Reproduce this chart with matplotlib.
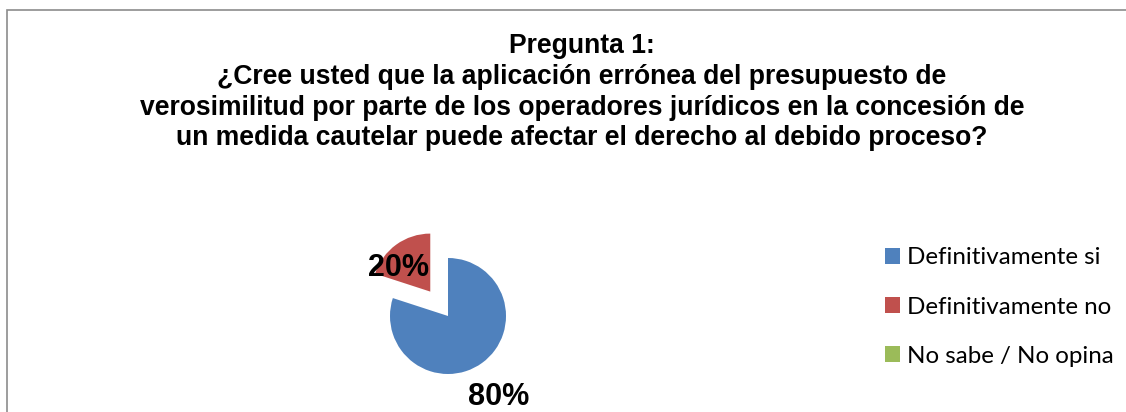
import matplotlib
matplotlib.use("Agg")
import matplotlib.pyplot as plt
import numpy as np

# datos de la encuesta
categorias = ["Definitivamente si", "Definitivamente no", "No sabe / No opina"]
porcentajes = [80, 20, 0]
colores = ["#4F81BD", "#C0504D", "#9BBB59"]
separacion = [0, 0.52, 0]

titulo = ("Pregunta 1:\n"
          "¿Cree usted que la aplicación errónea del presupuesto de\n"
          "verosimilitud por parte de los operadores jurídicos en la concesión de\n"
          "un medida cautelar puede afectar el derecho al debido proceso?")

W, H = 1126, 412
fig = plt.figure(figsize=(W / 100, H / 100), dpi=100)

# marco del grafico (solo se ven el borde izquierdo y el superior)
marco = plt.Rectangle((7 / W, -0.1), 1.2, (H - 10) / H + 0.1, transform=fig.transFigure,
                      fill=False, edgecolor="#8c8c8c", linewidth=1.2)
fig.patches.append(marco)

fig.text(582 / W, 1 - 33 / H, titulo, ha="center", va="top", fontsize=19.1,
         fontweight="bold", family="Liberation Sans", linespacing=1.24)

# pie: centro (448, 316) px, radio 58 px
lado = 160
cx, cy = 448, H - 316
ax = fig.add_axes([(cx - lado / 2) / W, (cy - lado / 2) / H, lado / W, lado / H])

wedges, textos = ax.pie(porcentajes, colors=colores, startangle=90, counterclock=False,
                        explode=separacion, radius=1, normalize=True,
                        wedgeprops=dict(linewidth=0))
a = lado / (2 * 58)
ax.set_xlim(-a, a)
ax.set_ylim(-a, a)
ax.set_aspect("equal")
ax.axis("off")

# etiquetas de porcentaje (posicion estilo Excel)
pos_etiquetas = [(0.87, -1.40), (-0.86, 0.82)]
for v, p in zip(porcentajes, pos_etiquetas):
    if v > 0:
        ax.text(p[0], p[1], f"{v}%", ha="center", va="center", fontsize=22,
                fontweight="bold", family="Liberation Sans", clip_on=False)

fs = 17.4
fig.legend(wedges, categorias, loc="center left", bbox_to_anchor=(885 / W, 1 - 307 / H),
           frameon=False, prop=dict(family="Lato", size=fs),
           handlelength=0.62, handleheight=0.62, handletextpad=0.3, labelspacing=1.16,
           borderaxespad=0, borderpad=0)

fig.savefig("out.png", dpi=100, facecolor="white")
